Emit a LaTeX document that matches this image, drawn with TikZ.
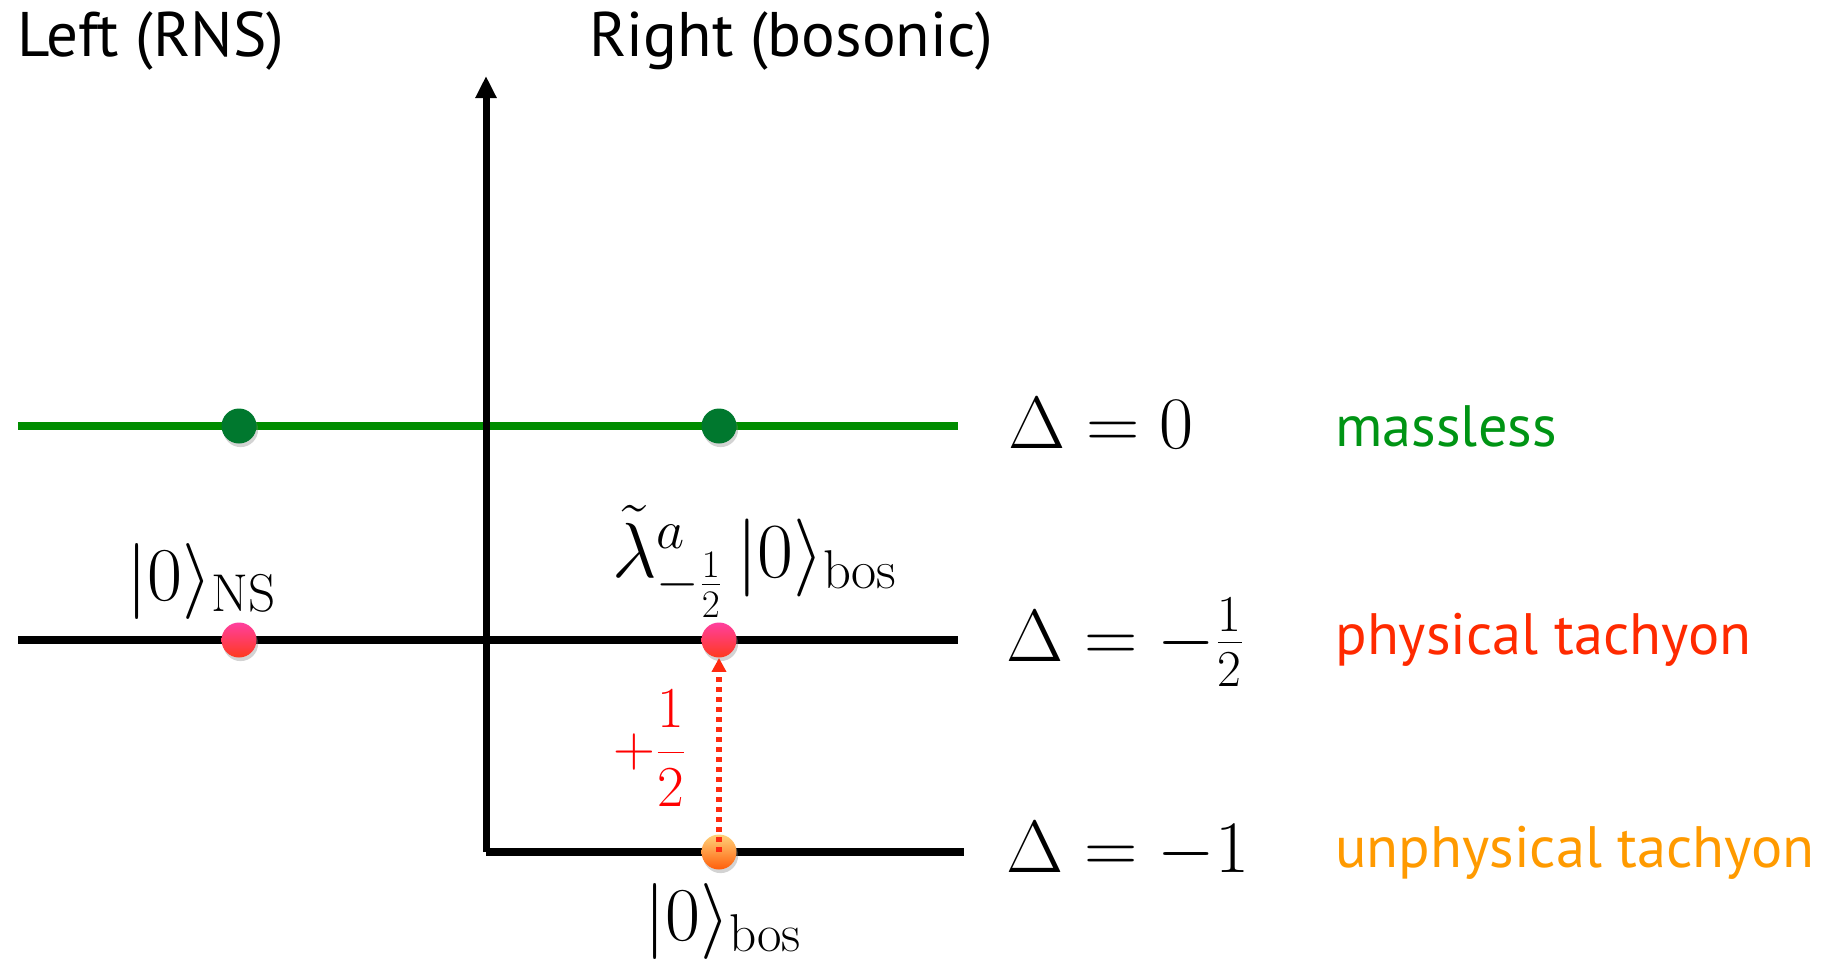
\RequirePackage{fix-cm}
\documentclass[tikz,border=0pt]{standalone}
\usepackage{fontspec}
\newfontfamily\gill{PT Sans}
\usetikzlibrary{arrows.meta,shadows}
\definecolor{lgreen}{HTML}{008C00}
\definecolor{dgreen}{HTML}{00782E}
\definecolor{tgreen}{HTML}{009414}
\definecolor{tred}{HTML}{FF2A00}
\definecolor{torange}{HTML}{FF9A00}
\definecolor{pinktop}{HTML}{FF3F9F}
\definecolor{pinkbot}{HTML}{FF3A1E}
\definecolor{ortop}{HTML}{FFD27A}
\definecolor{orbot}{HTML}{FF5E0A}
\definecolor{arrred}{HTML}{FF2A10}
\begin{document}
\begin{tikzpicture}[x=0.5pt,y=-0.5pt,
  level/.style={line width=4pt,black},
  glevel/.style={line width=4pt,lgreen},
  axisline/.style={line width=3.5pt,black,-{Triangle[length=11pt,width=10pt]}},
  dotbase/.style={circle,minimum size=17.5pt,inner sep=0pt,
     drop shadow={shadow xshift=0.8pt,shadow yshift=-1.8pt,opacity=0.35}},
  gdot/.style={dotbase,fill=dgreen},
  pdot/.style={dotbase,top color=pinktop,bottom color=pinkbot},
  odot/.style={dotbase,top color=ortop,bottom color=orbot},
  darr/.style={arrred,line width=2.6pt,dash pattern=on 2.4pt off 2.6pt,
     -{Triangle[length=7pt,width=7pt]}},
  head/.style={font=\gill\fontsize{31.5}{36}\selectfont,inner sep=0pt,anchor=base west},
  dlab/.style={font=\fontsize{37}{44}\selectfont,inner sep=0pt,anchor=base west},
  slab/.style={font=\fontsize{38}{44}\selectfont,inner sep=0pt,anchor=base west},
  nlab/.style={font=\gill\fontsize{29.2}{36}\selectfont,inner sep=0pt,anchor=base west}]
\useasboundingbox (0,0) rectangle (1847,965);

% coordinates
\coordinate (gL) at (18,426);
\coordinate (gR) at (958,426);
\coordinate (mL) at (18,640);
\coordinate (mR) at (958,640);
\coordinate (bL) at (486,852);
\coordinate (bR) at (964,852);
\coordinate (axT) at (486,76);

% levels
\draw[glevel] (gL) -- (gR);
\draw[level] (mL) -- (mR);
\draw[level] (bL) -- (bR);
\draw[axisline] (bL) -- (axT);

% dots
\node[gdot] (g1) at (239,426) {};
\node[gdot] (g2) at (719,426) {};
\node[pdot] (p1) at (239,640) {};
\node[pdot] (p2) at (719,640) {};
\node[odot] (o1) at (719,852) {};

% dotted arrow
\draw[darr] (o1.center) -- (p2.south);
\node[font=\fontsize{29}{34}\selectfont,text=red,inner sep=0pt] (half) at (650,748) {$+\displaystyle\frac{1}{2}$};

% headers
\node[head] (left) at (17,56) {Left (RNS)};
\node[head] (right) at (589,56) {Right (bosonic)};

% state labels
\node[slab] (ns) at (126,600) {$|0\rangle_{\mathrm{NS}}$};
\node[slab,font=\fontsize{39}{44}\selectfont] (lam) at (612,577) {$\tilde\lambda^a_{-\frac12}\,|0\rangle_{\mathrm{bos}}$};
\node[slab] (bos) at (644,940) {$|0\rangle_{\mathrm{bos}}$};

% Delta labels
\node[dlab] (d0) at (1008,448) {$\Delta=0$};
\node[dlab] (d1) at (1006,661) {$\Delta=-\frac12$};
\node[dlab] (d2) at (1006,872) {$\Delta=-1$};

% names
\node[nlab,text=tgreen] (n0) at (1335,446) {massless};
\node[nlab,text=tred] (n1) at (1335,654) {physical tachyon};
\node[nlab,text=torange] (n2) at (1335,867) {unphysical tachyon};
\end{tikzpicture}
\end{document}
